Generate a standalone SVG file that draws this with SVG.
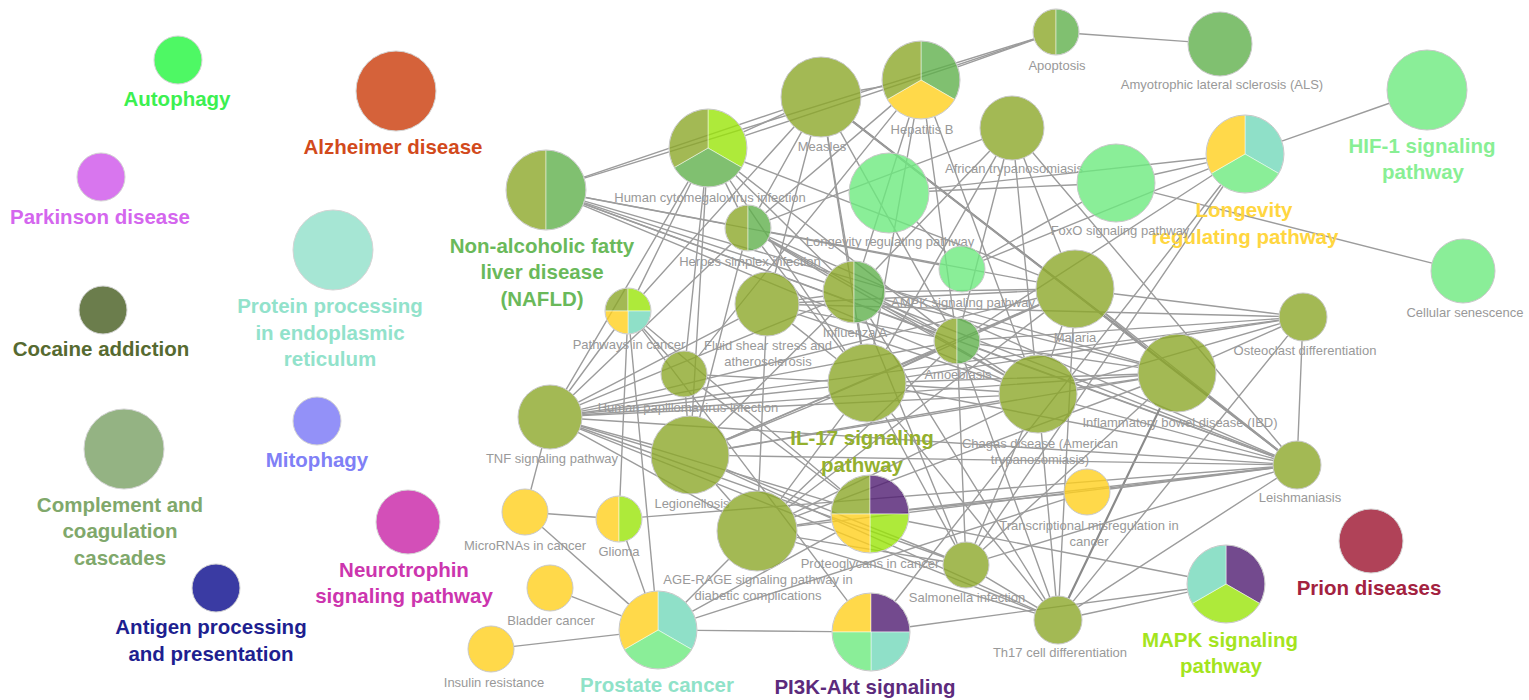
<svg xmlns="http://www.w3.org/2000/svg" width="1529" height="700" viewBox="0 0 1529 700">
<style>
.e line{stroke:#9c9c9c;stroke-width:1.4}
.e line.k{stroke:#8a8a8a;stroke-width:2.2}
.o{fill:#8ca829;fill-opacity:.8}
.m{fill:#60b04c;fill-opacity:.8}
.lg{fill:#6dea7e;fill-opacity:.8}
.y{fill:#ffcf1d;fill-opacity:.8}
.li{fill:#9ae509;fill-opacity:.8}
.p{fill:#501d72;fill-opacity:.8}
.t{fill:#73d8ba;fill-opacity:.8}
.nd{stroke:#c8c8c8;stroke-width:1}
.sg{stroke:#ffffff;stroke-opacity:.6;stroke-width:.8}
.rim{fill:none;stroke:#c8c8c8;stroke-width:1}
.iso{stroke:#d4d4d4;stroke-width:1}
.lb{font-family:"Liberation Sans",Arial,sans-serif;font-size:13px;fill:#999999;text-anchor:middle}
.bl{font-family:"Liberation Sans",Arial,sans-serif;font-size:20.5px;font-weight:bold;text-anchor:middle}
</style>
<rect width="1529" height="700" fill="#ffffff"/>

<!-- connectors: each dash pattern hides the part of the line inside its two end nodes -->
<g id="edges" class="e">
<line x1="1056" y1="32" x2="1220" y2="44" stroke-dasharray="0 23 109.4 2000"/>
<line x1="1056" y1="32" x2="921" y2="80" stroke-dasharray="0 23 81.3 2000"/>
<line x1="1056" y1="32" x2="708" y2="148" stroke-dasharray="0 23 304.8 2000"/>
<line x1="1056" y1="32" x2="546" y2="190" stroke-dasharray="0 23 470.9 2000"/>
<line x1="546" y1="190" x2="821" y2="97" stroke-dasharray="0 40 210.3 2000"/>
<line x1="546" y1="190" x2="748" y2="228" stroke-dasharray="0 40 142.5 2000"/>
<line x1="546" y1="190" x2="854" y2="292" stroke-dasharray="0 40 253.5 2000"/>
<line x1="546" y1="190" x2="957" y2="341" stroke-dasharray="0 40 374.9 2000"/>
<line x1="546" y1="190" x2="1038" y2="394" stroke-dasharray="0 40 453.6 2000"/>
<line x1="546" y1="190" x2="1177" y2="373" stroke-dasharray="0 40 578 2000"/>
<line x1="546" y1="190" x2="1297" y2="465" stroke-dasharray="0 40 735.8 2000"/>
<line x1="546" y1="190" x2="962" y2="269" stroke-dasharray="0 40 360.4 2000"/>
<line x1="708" y1="148" x2="821" y2="97" stroke-dasharray="0 39 45 2000"/>
<line x1="708" y1="148" x2="748" y2="228" stroke-dasharray="0 39 27.4 2000"/>
<line x1="708" y1="148" x2="854" y2="292" stroke-dasharray="0 39 135.1 2000"/>
<line x1="708" y1="148" x2="867" y2="383" stroke-dasharray="0 39 205.7 2000"/>
<line x1="708" y1="148" x2="957" y2="341" stroke-dasharray="0 39 253 2000"/>
<line x1="708" y1="148" x2="550" y2="417" stroke-dasharray="0 39 241 2000"/>
<line x1="708" y1="148" x2="684" y2="374" stroke-dasharray="0 39 165.3 2000"/>
<line x1="708" y1="148" x2="690" y2="455" stroke-dasharray="0 39 229.5 2000"/>
<line x1="708" y1="148" x2="1075" y2="289" stroke-dasharray="0 39 315.2 2000"/>
<line x1="708" y1="148" x2="628" y2="311" stroke-dasharray="0 39 119.6 2000"/>
<line x1="821" y1="97" x2="921" y2="80" stroke-dasharray="0 40 22.4 2000"/>
<line x1="821" y1="97" x2="748" y2="228" stroke-dasharray="0 40 87 2000"/>
<line x1="821" y1="97" x2="854" y2="292" stroke-dasharray="0 40 126.8 2000"/>
<line x1="821" y1="97" x2="867" y2="383" stroke-dasharray="0 40 210.7 2000"/>
<line x1="821" y1="97" x2="957" y2="341" stroke-dasharray="0 40 216.3 2000"/>
<line class="k" x1="821" y1="97" x2="1297" y2="465" stroke-dasharray="0 40 537.7 2000"/>
<line x1="821" y1="97" x2="1177" y2="373" stroke-dasharray="0 40 371.5 2000"/>
<line x1="821" y1="97" x2="767" y2="304" stroke-dasharray="0 40 141.9 2000"/>
<line x1="821" y1="97" x2="628" y2="311" stroke-dasharray="0 40 225.2 2000"/>
<line x1="921" y1="80" x2="854" y2="292" stroke-dasharray="0 39 152.3 2000"/>
<line x1="921" y1="80" x2="748" y2="228" stroke-dasharray="0 39 165.7 2000"/>
<line x1="921" y1="80" x2="867" y2="383" stroke-dasharray="0 39 229.8 2000"/>
<line x1="921" y1="80" x2="1038" y2="394" stroke-dasharray="0 39 257.1 2000"/>
<line x1="921" y1="80" x2="957" y2="341" stroke-dasharray="0 39 201.5 2000"/>
<line x1="921" y1="80" x2="684" y2="374" stroke-dasharray="0 39 315.6 2000"/>
<line x1="1012" y1="128" x2="1075" y2="289" stroke-dasharray="0 32 101.9 2000"/>
<line x1="1012" y1="128" x2="1038" y2="394" stroke-dasharray="0 32 196.3 2000"/>
<line x1="1012" y1="128" x2="957" y2="341" stroke-dasharray="0 32 165 2000"/>
<line x1="1012" y1="128" x2="867" y2="383" stroke-dasharray="0 32 222.3 2000"/>
<line x1="1012" y1="128" x2="1297" y2="465" stroke-dasharray="0 32 385.4 2000"/>
<line x1="1012" y1="128" x2="748" y2="228" stroke-dasharray="0 32 227.3 2000"/>
<line x1="1012" y1="128" x2="854" y2="292" stroke-dasharray="0 32 164.7 2000"/>
<line x1="889" y1="193" x2="1116" y2="183" stroke-dasharray="0 40 148.2 2000"/>
<line x1="889" y1="193" x2="962" y2="269" stroke-dasharray="0 40 42.4 2000"/>
<line x1="889" y1="193" x2="1245" y2="154" stroke-dasharray="0 40 279.1 2000"/>
<line x1="1116" y1="183" x2="1245" y2="154" stroke-dasharray="0 39 54.2 2000"/>
<line x1="1116" y1="183" x2="962" y2="269" stroke-dasharray="0 39 114.4 2000"/>
<line x1="1116" y1="183" x2="1463" y2="271" stroke-dasharray="0 39 287 2000"/>
<line x1="1245" y1="154" x2="1427" y2="90" stroke-dasharray="0 39 113.9 2000"/>
<line x1="1245" y1="154" x2="962" y2="269" stroke-dasharray="0 39 243.5 2000"/>
<line x1="1245" y1="154" x2="957" y2="341" stroke-dasharray="0 39 281.4 2000"/>
<line x1="1245" y1="154" x2="966" y2="565" stroke-dasharray="0 39 434.8 2000"/>
<line x1="1245" y1="154" x2="871" y2="632" stroke-dasharray="0 39 528.9 2000"/>
<line x1="748" y1="228" x2="854" y2="292" stroke-dasharray="0 23 69.8 2000"/>
<line x1="748" y1="228" x2="867" y2="383" stroke-dasharray="0 23 133.4 2000"/>
<line x1="748" y1="228" x2="957" y2="341" stroke-dasharray="0 23 191.6 2000"/>
<line x1="748" y1="228" x2="1075" y2="289" stroke-dasharray="0 23 270.6 2000"/>
<line x1="748" y1="228" x2="1038" y2="394" stroke-dasharray="0 23 272.1 2000"/>
<line x1="748" y1="228" x2="1297" y2="465" stroke-dasharray="0 23 551 2000"/>
<line x1="748" y1="228" x2="550" y2="417" stroke-dasharray="0 23 218.7 2000"/>
<line x1="748" y1="228" x2="690" y2="455" stroke-dasharray="0 23 172.3 2000"/>
<line x1="854" y1="292" x2="867" y2="383" stroke-dasharray="0 31 21.9 2000"/>
<line x1="854" y1="292" x2="957" y2="341" stroke-dasharray="0 31 60.1 2000"/>
<line x1="854" y1="292" x2="1075" y2="289" stroke-dasharray="0 31 151 2000"/>
<line x1="854" y1="292" x2="1038" y2="394" stroke-dasharray="0 31 140.4 2000"/>
<line x1="854" y1="292" x2="1177" y2="373" stroke-dasharray="0 31 263 2000"/>
<line x1="854" y1="292" x2="1297" y2="465" stroke-dasharray="0 31 420.6 2000"/>
<line x1="854" y1="292" x2="550" y2="417" stroke-dasharray="0 31 265.7 2000"/>
<line x1="854" y1="292" x2="690" y2="455" stroke-dasharray="0 31 161.2 2000"/>
<line x1="854" y1="292" x2="966" y2="565" stroke-dasharray="0 31 241.1 2000"/>
<line x1="854" y1="292" x2="1058" y2="620" stroke-dasharray="0 31 331.3 2000"/>
<line x1="854" y1="292" x2="767" y2="304" stroke-dasharray="0 31 24.8 2000"/>
<line x1="1075" y1="289" x2="867" y2="383" stroke-dasharray="0 39 150.3 2000"/>
<line x1="1075" y1="289" x2="957" y2="341" stroke-dasharray="0 39 66.9 2000"/>
<line x1="1075" y1="289" x2="1038" y2="394" stroke-dasharray="0 39 33.3 2000"/>
<line x1="1075" y1="289" x2="1177" y2="373" stroke-dasharray="0 39 54.1 2000"/>
<line x1="1075" y1="289" x2="1297" y2="465" stroke-dasharray="0 39 220.3 2000"/>
<line x1="1075" y1="289" x2="1303" y2="317" stroke-dasharray="0 39 166.7 2000"/>
<line x1="1075" y1="289" x2="550" y2="417" stroke-dasharray="0 39 469.4 2000"/>
<line x1="1075" y1="289" x2="690" y2="455" stroke-dasharray="0 39 341.3 2000"/>
<line x1="1075" y1="289" x2="757" y2="531" stroke-dasharray="0 39 320.6 2000"/>
<line x1="1075" y1="289" x2="1058" y2="620" stroke-dasharray="0 39 268.4 2000"/>
<line x1="628" y1="311" x2="619" y2="519" stroke-dasharray="0 23 162.2 2000"/>
<line x1="628" y1="311" x2="658" y2="630" stroke-dasharray="0 23 258.4 2000"/>
<line x1="628" y1="311" x2="870" y2="514" stroke-dasharray="0 23 253.9 2000"/>
<line x1="628" y1="311" x2="871" y2="632" stroke-dasharray="0 23 340.6 2000"/>
<line x1="628" y1="311" x2="550" y2="417" stroke-dasharray="0 23 76.6 2000"/>
<line x1="628" y1="311" x2="684" y2="374" stroke-dasharray="0 23 38.3 2000"/>
<line x1="767" y1="304" x2="867" y2="383" stroke-dasharray="0 32 56.4 2000"/>
<line x1="767" y1="304" x2="550" y2="417" stroke-dasharray="0 32 180.7 2000"/>
<line x1="767" y1="304" x2="757" y2="531" stroke-dasharray="0 32 155.2 2000"/>
<line x1="767" y1="304" x2="957" y2="341" stroke-dasharray="0 32 138.6 2000"/>
<line x1="767" y1="304" x2="1038" y2="394" stroke-dasharray="0 32 214.6 2000"/>
<line x1="767" y1="304" x2="1303" y2="317" stroke-dasharray="0 32 480.2 2000"/>
<line x1="767" y1="304" x2="1075" y2="289" stroke-dasharray="0 32 237.4 2000"/>
<line x1="957" y1="341" x2="867" y2="383" stroke-dasharray="0 23 37.3 2000"/>
<line x1="957" y1="341" x2="1038" y2="394" stroke-dasharray="0 23 34.8 2000"/>
<line x1="957" y1="341" x2="1177" y2="373" stroke-dasharray="0 23 160.3 2000"/>
<line x1="957" y1="341" x2="1297" y2="465" stroke-dasharray="0 23 314.9 2000"/>
<line x1="957" y1="341" x2="1303" y2="317" stroke-dasharray="0 23 299.8 2000"/>
<line x1="957" y1="341" x2="550" y2="417" stroke-dasharray="0 23 359 2000"/>
<line x1="957" y1="341" x2="690" y2="455" stroke-dasharray="0 23 228.3 2000"/>
<line x1="957" y1="341" x2="966" y2="565" stroke-dasharray="0 23 178.2 2000"/>
<line x1="957" y1="341" x2="1058" y2="620" stroke-dasharray="0 23 249.7 2000"/>
<line x1="957" y1="341" x2="757" y2="531" stroke-dasharray="0 23 212.9 2000"/>
<line x1="1303" y1="317" x2="550" y2="417" stroke-dasharray="0 24 703.6 2000"/>
<line x1="1303" y1="317" x2="1177" y2="373" stroke-dasharray="0 24 74.9 2000"/>
<line x1="1303" y1="317" x2="1297" y2="465" stroke-dasharray="0 24 100.1 2000"/>
<line x1="1303" y1="317" x2="867" y2="383" stroke-dasharray="0 24 378 2000"/>
<line x1="1303" y1="317" x2="1058" y2="620" stroke-dasharray="0 24 341.7 2000"/>
<line x1="1303" y1="317" x2="1038" y2="394" stroke-dasharray="0 24 213 2000"/>
<line x1="684" y1="374" x2="867" y2="383" stroke-dasharray="0 23 121.2 2000"/>
<line x1="684" y1="374" x2="870" y2="514" stroke-dasharray="0 23 170.8 2000"/>
<line x1="684" y1="374" x2="690" y2="455" stroke-dasharray="0 23 19.2 2000"/>
<line x1="867" y1="383" x2="1038" y2="394" stroke-dasharray="0 39 93.4 2000"/>
<line x1="867" y1="383" x2="1177" y2="373" stroke-dasharray="0 39 232.2 2000"/>
<line x1="867" y1="383" x2="1297" y2="465" stroke-dasharray="0 39 374.7 2000"/>
<line x1="867" y1="383" x2="550" y2="417" stroke-dasharray="0 39 247.8 2000"/>
<line x1="867" y1="383" x2="690" y2="455" stroke-dasharray="0 39 113.1 2000"/>
<line x1="867" y1="383" x2="757" y2="531" stroke-dasharray="0 39 105.4 2000"/>
<line x1="867" y1="383" x2="966" y2="565" stroke-dasharray="0 39 145.2 2000"/>
<line x1="867" y1="383" x2="1058" y2="620" stroke-dasharray="0 39 241.4 2000"/>
<line x1="1038" y1="394" x2="1177" y2="373" stroke-dasharray="0 39 62.6 2000"/>
<line x1="1038" y1="394" x2="1297" y2="465" stroke-dasharray="0 39 205.6 2000"/>
<line x1="1038" y1="394" x2="550" y2="417" stroke-dasharray="0 39 417.5 2000"/>
<line x1="1038" y1="394" x2="690" y2="455" stroke-dasharray="0 39 275.3 2000"/>
<line x1="1038" y1="394" x2="757" y2="531" stroke-dasharray="0 39 233.6 2000"/>
<line x1="1038" y1="394" x2="966" y2="565" stroke-dasharray="0 39 123.5 2000"/>
<line x1="1038" y1="394" x2="1058" y2="620" stroke-dasharray="0 39 163.9 2000"/>
<line x1="1177" y1="373" x2="1297" y2="465" stroke-dasharray="0 39 88.2 2000"/>
<line x1="1177" y1="373" x2="550" y2="417" stroke-dasharray="0 39 557.5 2000"/>
<line x1="1177" y1="373" x2="690" y2="455" stroke-dasharray="0 39 415.9 2000"/>
<line class="k" x1="1177" y1="373" x2="1058" y2="620" stroke-dasharray="0 39 211.2 2000"/>
<line x1="1177" y1="373" x2="966" y2="565" stroke-dasharray="0 39 223.3 2000"/>
<line x1="1177" y1="373" x2="757" y2="531" stroke-dasharray="0 39 369.7 2000"/>
<line x1="550" y1="417" x2="690" y2="455" stroke-dasharray="0 32 74.1 2000"/>
<line x1="550" y1="417" x2="757" y2="531" stroke-dasharray="0 32 164.3 2000"/>
<line x1="550" y1="417" x2="525" y2="512" stroke-dasharray="0 32 43.2 2000"/>
<line x1="550" y1="417" x2="1297" y2="465" stroke-dasharray="0 32 692.5 2000"/>
<line x1="550" y1="417" x2="966" y2="565" stroke-dasharray="0 32 386.5 2000"/>
<line x1="550" y1="417" x2="1058" y2="620" stroke-dasharray="0 32 491.1 2000"/>
<line x1="550" y1="417" x2="870" y2="514" stroke-dasharray="0 32 263.4 2000"/>
<line x1="690" y1="455" x2="757" y2="531" stroke-dasharray="0 39 22.3 2000"/>
<line x1="690" y1="455" x2="966" y2="565" stroke-dasharray="0 39 235.1 2000"/>
<line x1="690" y1="455" x2="1297" y2="465" stroke-dasharray="0 39 544.1 2000"/>
<line x1="690" y1="455" x2="1058" y2="620" stroke-dasharray="0 39 340.3 2000"/>
<line x1="1297" y1="465" x2="1058" y2="620" stroke-dasharray="0 24 236.9 2000"/>
<line x1="1297" y1="465" x2="966" y2="565" stroke-dasharray="0 24 298.8 2000"/>
<line x1="1297" y1="465" x2="1087" y2="492" stroke-dasharray="0 24 164.7 2000"/>
<line x1="1297" y1="465" x2="757" y2="531" stroke-dasharray="0 24 480 2000"/>
<line x1="1297" y1="465" x2="870" y2="514" stroke-dasharray="0 24 366.8 2000"/>
<line x1="1087" y1="492" x2="870" y2="514" stroke-dasharray="0 23 156.1 2000"/>
<line x1="1087" y1="492" x2="658" y2="630" stroke-dasharray="0 23 388.6 2000"/>
<line x1="525" y1="512" x2="619" y2="519" stroke-dasharray="0 23 48.3 2000"/>
<line x1="525" y1="512" x2="658" y2="630" stroke-dasharray="0 23 115.8 2000"/>
<line x1="619" y1="519" x2="1297" y2="465" stroke-dasharray="0 23 633.1 2000"/>
<line x1="619" y1="519" x2="658" y2="630" stroke-dasharray="0 23 55.7 2000"/>
<line x1="757" y1="531" x2="658" y2="630" stroke-dasharray="0 40 61 2000"/>
<line x1="757" y1="531" x2="966" y2="565" stroke-dasharray="0 40 148.7 2000"/>
<line x1="757" y1="531" x2="1058" y2="620" stroke-dasharray="0 40 249.9 2000"/>
<line x1="757" y1="531" x2="870" y2="514" stroke-dasharray="0 40 35.3 2000"/>
<line x1="870" y1="514" x2="658" y2="630" stroke-dasharray="0 39 163.7 2000"/>
<line x1="870" y1="514" x2="1226" y2="584" stroke-dasharray="0 39 284.8 2000"/>
<line x1="966" y1="565" x2="1058" y2="620" stroke-dasharray="0 23 60.2 2000"/>
<line x1="550" y1="588" x2="658" y2="630" stroke-dasharray="0 23 53.9 2000"/>
<line x1="491" y1="649" x2="658" y2="630" stroke-dasharray="0 23 106.1 2000"/>
<line x1="658" y1="630" x2="871" y2="632" stroke-dasharray="0 39 135 2000"/>
<line x1="871" y1="632" x2="1226" y2="584" stroke-dasharray="0 39 280.2 2000"/>
<line x1="1058" y1="620" x2="1226" y2="584" stroke-dasharray="0 24 108.8 2000"/>
</g>

<!-- unconnected terms -->
<g id="autophagy"><circle cx="178" cy="60" r="24" fill="#4ef864" class="iso"/><text class="bl" x="177" y="106" fill="#3cf050">Autophagy</text></g>
<g id="alzheimer"><circle cx="396" cy="91" r="40" fill="#d5623a" class="iso"/><text class="bl" x="393" y="153.5" fill="#d24a1c">Alzheimer disease</text></g>
<g id="parkinson"><circle cx="101" cy="177" r="24" fill="#d876ee" class="iso"/><text class="bl" x="100" y="223.5" fill="#d466ee">Parkinson disease</text></g>
<g id="protein-processing"><circle cx="333" cy="250" r="40" fill="#a6e6d4" class="iso"/><text class="bl" x="330" y="313" fill="#92e2cb">Protein processing</text><text class="bl" x="330" y="339.5" fill="#92e2cb">in endoplasmic</text><text class="bl" x="330" y="366" fill="#92e2cb">reticulum</text></g>
<g id="cocaine"><circle cx="103" cy="310" r="24" fill="#6b7d4c" class="iso"/><text class="bl" x="101" y="355.5" fill="#566a30">Cocaine addiction</text></g>
<g id="mitophagy"><circle cx="317" cy="421" r="24" fill="#9391f8" class="iso"/><text class="bl" x="317" y="466.5" fill="#8080f6">Mitophagy</text></g>
<g id="complement"><circle cx="124" cy="449" r="40" fill="#94b383" class="iso"/><text class="bl" x="120" y="511.5" fill="#80a86b">Complement and</text><text class="bl" x="120" y="538" fill="#80a86b">coagulation</text><text class="bl" x="120" y="565" fill="#80a86b">cascades</text></g>
<g id="neurotrophin"><circle cx="408" cy="522" r="32" fill="#d34fb8" class="iso"/><text class="bl" x="404" y="576.5" fill="#cc35ae">Neurotrophin</text><text class="bl" x="404" y="603" fill="#cc35ae">signaling pathway</text></g>
<g id="antigen"><circle cx="216" cy="588" r="24" fill="#3a3ba3" class="iso"/><text class="bl" x="211" y="634" fill="#1e1f90">Antigen processing</text><text class="bl" x="211" y="661" fill="#1e1f90">and presentation</text></g>
<g id="prion"><circle cx="1371" cy="541" r="32" fill="#b04258" class="iso"/><text class="bl" x="1369" y="595" fill="#a3223f">Prion diseases</text></g>

<!-- network terms -->
<g id="nafld">
<path class="o sg" d="M546,150 A40,40 0 0 0 546,230 Z"/><path class="m sg" d="M546,150 A40,40 0 0 1 546,230 Z"/><circle class="rim" cx="546" cy="190" r="40"/>
<text class="bl" x="542" y="252.5" fill="#6ab95a">Non-alcoholic fatty</text><text class="bl" x="542" y="279" fill="#6ab95a">liver disease</text><text class="bl" x="542" y="305.5" fill="#6ab95a">(NAFLD)</text>
</g>
<g id="hcmv">
<path class="li sg" d="M708,148 L708,109 A39,39 0 0 1 741.77,167.5 Z"/><path class="m sg" d="M708,148 L741.77,167.5 A39,39 0 0 1 674.23,167.5 Z"/><path class="o sg" d="M708,148 L674.23,167.5 A39,39 0 0 1 708,109 Z"/><circle class="rim" cx="708" cy="148" r="39"/>
<text class="lb" x="710" y="202">Human cytomegalovirus infection</text>
</g>
<g id="measles"><circle class="o nd" cx="821" cy="97" r="40"/><text class="lb" x="822" y="150.5">Measles</text></g>
<g id="hepatitis-b">
<path class="m sg" d="M921,80 L921,41 A39,39 0 0 1 954.77,99.5 Z"/><path class="y sg" d="M921,80 L954.77,99.5 A39,39 0 0 1 887.23,99.5 Z"/><path class="o sg" d="M921,80 L887.23,99.5 A39,39 0 0 1 921,41 Z"/><circle class="rim" cx="921" cy="80" r="39"/>
<text class="lb" x="922" y="134">Hepatitis B</text>
</g>
<g id="apoptosis">
<path class="o sg" d="M1056,9 A23,23 0 0 0 1056,55 Z"/><path class="m sg" d="M1056,9 A23,23 0 0 1 1056,55 Z"/><circle class="rim" cx="1056" cy="32" r="23"/>
<text class="lb" x="1057" y="69.5">Apoptosis</text>
</g>
<g id="als"><circle class="m nd" cx="1220" cy="44" r="32"/><text class="lb" x="1222" y="89">Amyotrophic lateral sclerosis (ALS)</text></g>
<g id="hif1"><circle class="lg nd" cx="1427" cy="90" r="40"/><text class="bl" x="1422" y="152.5" fill="#88ef94">HIF-1 signaling</text><text class="bl" x="1423" y="179" fill="#88ef94">pathway</text></g>
<g id="longevity-main">
<path class="t sg" d="M1245,154 L1245,115 A39,39 0 0 1 1278.77,173.5 Z"/><path class="lg sg" d="M1245,154 L1278.77,173.5 A39,39 0 0 1 1211.23,173.5 Z"/><path class="y sg" d="M1245,154 L1211.23,173.5 A39,39 0 0 1 1245,115 Z"/><circle class="rim" cx="1245" cy="154" r="39"/>
<text class="bl" x="1244" y="217" fill="#ffd640">Longevity</text><text class="bl" x="1245" y="243.5" fill="#ffd640">regulating pathway</text>
</g>
<g id="cellular-senescence"><circle class="lg nd" cx="1463" cy="271" r="32"/><text class="lb" x="1465" y="316.5">Cellular senescence</text></g>
<g id="african-trypanosomiasis"><circle class="o nd" cx="1012" cy="128" r="32"/><text class="lb" x="1014" y="173">African trypanosomiasis</text></g>
<g id="foxo"><circle class="lg nd" cx="1116" cy="183" r="39"/><text class="lb" x="1120" y="235">FoxO signaling pathway</text></g>
<g id="longevity"><circle class="lg nd" cx="889" cy="193" r="40"/><text class="lb" x="890" y="246">Longevity regulating pathway</text></g>
<g id="herpes">
<path class="o sg" d="M748,205 A23,23 0 0 0 748,251 Z"/><path class="m sg" d="M748,205 A23,23 0 0 1 748,251 Z"/><circle class="rim" cx="748" cy="228" r="23"/>
<text class="lb" x="750" y="265.5">Herpes simplex infection</text>
</g>
<g id="ampk"><circle class="lg nd" cx="962" cy="269" r="23"/><text class="lb" x="963" y="307">AMPK signaling pathway</text></g>
<g id="influenza-a">
<path class="o sg" d="M854,261 A31,31 0 0 0 854,323 Z"/><path class="m sg" d="M854,261 A31,31 0 0 1 854,323 Z"/><circle class="rim" cx="854" cy="292" r="31"/>
<text class="lb" x="855" y="337">Influenza A</text>
</g>
<g id="malaria"><circle class="o nd" cx="1075" cy="289" r="39"/><text class="lb" x="1075" y="342">Malaria</text></g>
<g id="pathways-in-cancer">
<path class="o sg" d="M628,311 L605,311 A23,23 0 0 1 628,288 Z"/><path class="li sg" d="M628,311 L628,288 A23,23 0 0 1 651,311 Z"/><path class="t sg" d="M628,311 L651,311 A23,23 0 0 1 628,334 Z"/><path class="y sg" d="M628,311 L628,334 A23,23 0 0 1 605,311 Z"/><circle class="rim" cx="628" cy="311" r="23"/>
<text class="lb" x="629" y="348.5">Pathways in cancer</text>
</g>
<g id="fluid-shear"><circle class="o nd" cx="767" cy="304" r="32"/><text class="lb" x="768" y="349.5">Fluid shear stress and</text><text class="lb" x="768" y="365.5">atherosclerosis</text></g>
<g id="amoebiasis">
<path class="o sg" d="M957,318 A23,23 0 0 0 957,364 Z"/><path class="m sg" d="M957,318 A23,23 0 0 1 957,364 Z"/><circle class="rim" cx="957" cy="341" r="23"/>
<text class="lb" x="958" y="378.5">Amoebiasis</text>
</g>
<g id="osteoclast"><circle class="o nd" cx="1303" cy="317" r="24"/><text class="lb" x="1305" y="355">Osteoclast differentiation</text></g>
<g id="hpv"><circle class="o nd" cx="684" cy="374" r="23"/><text class="lb" x="688" y="412">Human papillomavirus infection</text></g>
<g id="il17"><circle class="o nd" cx="867" cy="383" r="39"/><text class="bl" x="862" y="445" fill="#94b02e">IL-17 signaling</text><text class="bl" x="862" y="471.5" fill="#94b02e">pathway</text></g>
<g id="chagas"><circle class="o nd" cx="1038" cy="394" r="39"/><text class="lb" x="1040" y="447.5">Chagas disease (American</text><text class="lb" x="1040" y="464">trypanosomiasis)</text></g>
<g id="ibd"><circle class="o nd" cx="1177" cy="373" r="39"/><text class="lb" x="1180" y="426.5">Inflammatory bowel disease (IBD)</text></g>
<g id="tnf"><circle class="o nd" cx="550" cy="417" r="32"/><text class="lb" x="552" y="462.5">TNF signaling pathway</text></g>
<g id="legionellosis"><circle class="o nd" cx="690" cy="455" r="39"/><text class="lb" x="692" y="508">Legionellosis</text></g>
<g id="leishmaniasis"><circle class="o nd" cx="1297" cy="465" r="24"/><text class="lb" x="1300" y="502">Leishmaniasis</text></g>
<g id="transcriptional-misregulation"><circle class="y nd" cx="1087" cy="492" r="23"/><text class="lb" x="1089" y="529.5">Transcriptional misregulation in</text><text class="lb" x="1089" y="545.5">cancer</text></g>
<g id="micrornas"><circle class="y nd" cx="525" cy="512" r="23"/><text class="lb" x="525" y="549.5">MicroRNAs in cancer</text></g>
<g id="glioma">
<path class="y sg" d="M619,496 A23,23 0 0 0 619,542 Z"/><path class="li sg" d="M619,496 A23,23 0 0 1 619,542 Z"/><circle class="rim" cx="619" cy="519" r="23"/>
<text class="lb" x="619" y="556">Glioma</text>
</g>
<g id="age-rage"><circle class="o nd" cx="757" cy="531" r="40"/><text class="lb" x="758" y="584">AGE-RAGE signaling pathway in</text><text class="lb" x="758" y="600">diabetic complications</text></g>
<g id="proteoglycans">
<path class="o sg" d="M870,514 L831,514 A39,39 0 0 1 870,475 Z"/><path class="p sg" d="M870,514 L870,475 A39,39 0 0 1 909,514 Z"/><path class="li sg" d="M870,514 L909,514 A39,39 0 0 1 870,553 Z"/><path class="y sg" d="M870,514 L870,553 A39,39 0 0 1 831,514 Z"/><circle class="rim" cx="870" cy="514" r="39"/>
<text class="lb" x="870" y="568">Proteoglycans in cancer</text>
</g>
<g id="salmonella"><circle class="o nd" cx="966" cy="565" r="23"/><text class="lb" x="967" y="602">Salmonella infection</text></g>
<g id="bladder-cancer"><circle class="y nd" cx="550" cy="588" r="23"/><text class="lb" x="551" y="625">Bladder cancer</text></g>
<g id="prostate-cancer">
<path class="t sg" d="M658,630 L658,591 A39,39 0 0 1 691.77,649.5 Z"/><path class="lg sg" d="M658,630 L691.77,649.5 A39,39 0 0 1 624.23,649.5 Z"/><path class="y sg" d="M658,630 L624.23,649.5 A39,39 0 0 1 658,591 Z"/><circle class="rim" cx="658" cy="630" r="39"/>
<text class="bl" x="657" y="691.5" fill="#8fe2c8">Prostate cancer</text>
</g>
<g id="pi3k-akt">
<path class="y sg" d="M871,632 L832,632 A39,39 0 0 1 871,593 Z"/><path class="p sg" d="M871,632 L871,593 A39,39 0 0 1 910,632 Z"/><path class="t sg" d="M871,632 L910,632 A39,39 0 0 1 871,671 Z"/><path class="lg sg" d="M871,632 L871,671 A39,39 0 0 1 832,632 Z"/><circle class="rim" cx="871" cy="632" r="39"/>
<text class="bl" x="865" y="693.5" fill="#5c2a7c">PI3K-Akt signaling</text>
</g>
<g id="insulin-resistance"><circle class="y nd" cx="491" cy="649" r="23"/><text class="lb" x="494" y="687">Insulin resistance</text></g>
<g id="th17"><circle class="o nd" cx="1058" cy="620" r="24"/><text class="lb" x="1060" y="657">Th17 cell differentiation</text></g>
<g id="mapk">
<path class="p sg" d="M1226,584 L1226,545 A39,39 0 0 1 1259.77,603.5 Z"/><path class="li sg" d="M1226,584 L1259.77,603.5 A39,39 0 0 1 1192.23,603.5 Z"/><path class="t sg" d="M1226,584 L1192.23,603.5 A39,39 0 0 1 1226,545 Z"/><circle class="rim" cx="1226" cy="584" r="39"/>
<text class="bl" x="1220" y="646.5" fill="#a4e41e">MAPK signaling</text><text class="bl" x="1221" y="673" fill="#a4e41e">pathway</text>
</g>
</svg>
